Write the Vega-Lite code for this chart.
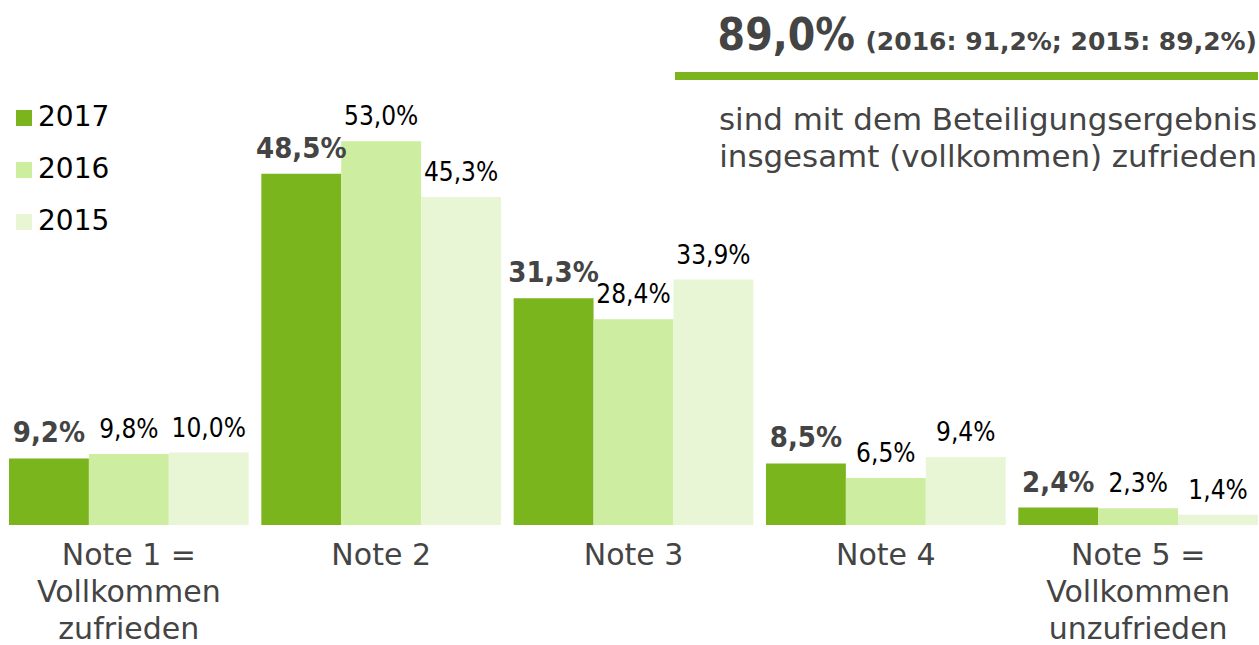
{
  "$schema": "https://vega.github.io/schema/vega-lite/v6.json",
  "width": 1249,
  "height": 525,
  "autosize": {"type": "none"},
  "padding": {"left": 9, "top": 0, "right": 1, "bottom": 120},
  "background": "white",
  "config": {"view": {"stroke": null}, "font": "DejaVu Sans"},
  "datasets": {
    "bars": [
      {"Note": "Note 1 =|Vollkommen|zufrieden", "Jahr": "2017", "Wert": 9.2, "Label": "9,2%"},
      {"Note": "Note 1 =|Vollkommen|zufrieden", "Jahr": "2016", "Wert": 9.8, "Label": "9,8%"},
      {"Note": "Note 1 =|Vollkommen|zufrieden", "Jahr": "2015", "Wert": 10.0, "Label": "10,0%"},
      {"Note": "Note 2", "Jahr": "2017", "Wert": 48.5, "Label": "48,5%"},
      {"Note": "Note 2", "Jahr": "2016", "Wert": 53.0, "Label": "53,0%"},
      {"Note": "Note 2", "Jahr": "2015", "Wert": 45.3, "Label": "45,3%"},
      {"Note": "Note 3", "Jahr": "2017", "Wert": 31.3, "Label": "31,3%"},
      {"Note": "Note 3", "Jahr": "2016", "Wert": 28.4, "Label": "28,4%"},
      {"Note": "Note 3", "Jahr": "2015", "Wert": 33.9, "Label": "33,9%"},
      {"Note": "Note 4", "Jahr": "2017", "Wert": 8.5, "Label": "8,5%"},
      {"Note": "Note 4", "Jahr": "2016", "Wert": 6.5, "Label": "6,5%"},
      {"Note": "Note 4", "Jahr": "2015", "Wert": 9.4, "Label": "9,4%"},
      {"Note": "Note 5 =|Vollkommen|unzufrieden", "Jahr": "2017", "Wert": 2.4, "Label": "2,4%"},
      {"Note": "Note 5 =|Vollkommen|unzufrieden", "Jahr": "2016", "Wert": 2.3, "Label": "2,3%"},
      {"Note": "Note 5 =|Vollkommen|unzufrieden", "Jahr": "2015", "Wert": 1.4, "Label": "1,4%"}
    ],
    "ann": [
      {"kind": "big", "t": "89,0%", "px": 0.6773, "py": 65.6},
      {"kind": "small", "t": "(2016: 91,2%; 2015: 89,2%)", "px": 0.9992, "py": 65.6},
      {"kind": "sub", "t": "sind mit dem Beteiligungsergebnis", "px": 0.9992, "py": 54.6},
      {"kind": "sub", "t": "insgesamt (vollkommen) zufrieden", "px": 0.9992, "py": 49.5}
    ],
    "line": [
      {"px": 0.5332, "px2": 1.0, "py": 62.0}
    ]
  },
  "layer": [
    {
      "data": {"name": "bars"},
      "encoding": {
        "x": {
          "field": "Note", "type": "nominal", "sort": null,
          "scale": {"paddingInner": 0.05, "paddingOuter": 0},
          "axis": {
            "title": null, "domain": false, "ticks": false, "labelAngle": 0,
            "labelFont": "DejaVu Sans", "labelFontSize": 30, "labelColor": "#444444",
            "labelLineHeight": 37, "labelPadding": 39, "labelBaseline": "alphabetic",
            "labelExpr": "split(datum.value, '|')", "labelLimit": 0, "labelOverlap": false
          }
        },
        "xOffset": {
          "field": "Jahr", "type": "nominal", "sort": ["2017", "2016", "2015"],
          "scale": {"paddingInner": 0, "paddingOuter": 0}
        },
        "y": {
          "field": "Wert", "type": "quantitative",
          "scale": {"domain": [0, 72.5], "nice": false, "zero": true},
          "axis": null
        }
      },
      "layer": [
        {
          "mark": {"type": "bar"},
          "encoding": {
            "color": {
              "field": "Jahr", "type": "nominal", "sort": ["2017", "2016", "2015"],
              "scale": {"domain": ["2017", "2016", "2015"], "range": ["#7ab51e", "#cdeda0", "#e8f6d5"]},
              "legend": {
                "orient": "none", "legendX": 1, "legendY": 104, "title": null,
                "symbolType": "square", "symbolSize": 256, "symbolStrokeWidth": 0,
                "labelFont": "DejaVu Sans", "labelFontSize": 28, "labelColor": "#000000",
                "labelOffset": 0, "rowPadding": 24, "padding": 0
              }
            }
          }
        },
        {
          "transform": [{"filter": "datum.Jahr == '2017'"}],
          "mark": {"type": "text", "dy": -16, "baseline": "alphabetic", "font": "DejaVu Sans Condensed", "fontWeight": "bold", "fontSize": 29, "color": "#444444"},
          "encoding": {"text": {"field": "Label"}}
        },
        {
          "transform": [{"filter": "datum.Jahr != '2017'"}],
          "mark": {"type": "text", "dy": -16, "baseline": "alphabetic", "font": "DejaVu Sans Condensed", "fontSize": 26, "color": "#000000"},
          "encoding": {"text": {"field": "Label"}}
        }
      ]
    },
    {
      "encoding": {
        "x": {"field": "px", "type": "quantitative", "scale": {"domain": [0, 1], "nice": false, "zero": false}, "axis": null},
        "y": {"field": "py", "type": "quantitative", "scale": {"domain": [0, 72.5], "nice": false, "zero": true}, "axis": null}
      },
      "layer": [
        {
          "data": {"name": "line"},
          "mark": {"type": "rule", "color": "#7ab51e", "strokeWidth": 8},
          "encoding": {"x2": {"field": "px2"}}
        },
        {
          "data": {"name": "ann"},
          "transform": [{"filter": "datum.kind == 'big'"}],
          "mark": {"type": "text", "align": "right", "baseline": "alphabetic", "font": "DejaVu Sans Condensed", "fontWeight": "bold", "fontSize": 44, "color": "#444444"},
          "encoding": {"text": {"field": "t"}}
        },
        {
          "data": {"name": "ann"},
          "transform": [{"filter": "datum.kind == 'small'"}],
          "mark": {"type": "text", "align": "right", "baseline": "alphabetic", "font": "DejaVu Sans", "fontWeight": "bold", "fontSize": 25, "color": "#444444"},
          "encoding": {"text": {"field": "t"}}
        },
        {
          "data": {"name": "ann"},
          "transform": [{"filter": "datum.kind == 'sub'"}],
          "mark": {"type": "text", "align": "right", "baseline": "alphabetic", "font": "DejaVu Sans", "fontSize": 30.9, "color": "#444444"},
          "encoding": {"text": {"field": "t"}}
        }
      ]
    }
  ],
  "resolve": {"scale": {"x": "independent"}}
}
